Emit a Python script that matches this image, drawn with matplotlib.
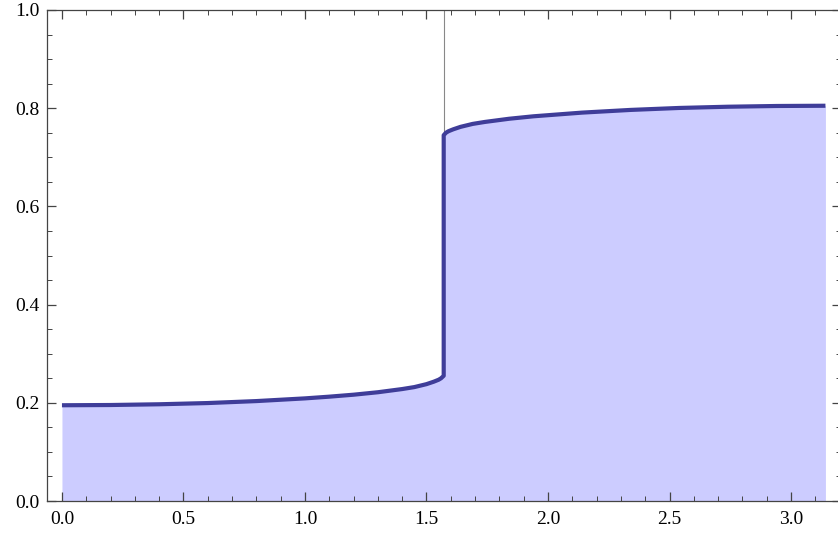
import numpy as np
import matplotlib.pyplot as plt
from matplotlib.ticker import MultipleLocator

# lower branch (left of pi/2)
x_low = [0.0, 0.2, 0.4, 0.6, 0.8, 1.0, 1.1, 1.2, 1.3, 1.4, 1.45, 1.5, 1.53, 1.55, 1.56, 1.5708]
y_low = [0.195, 0.1955, 0.197, 0.1995, 0.2035, 0.209, 0.2125, 0.2165, 0.2215, 0.228,
         0.232, 0.238, 0.243, 0.247, 0.25, 0.255]

# upper branch (right of pi/2)
x_high = [1.5708, 1.58, 1.59, 1.61, 1.64, 1.69, 1.74, 1.84, 1.94, 2.14, 2.34, 2.54, 2.74, 2.94, 3.1416]
y_high = [0.745, 0.75, 0.753, 0.757, 0.762, 0.768, 0.772, 0.7785, 0.7835, 0.791,
          0.7965, 0.8005, 0.803, 0.8045, 0.805]

x_jump = 1.5708

plt.rcParams['font.family'] = ['Liberation Serif', 'DejaVu Serif']

fig = plt.figure(figsize=(8.38, 5.37), dpi=100)
ax = fig.add_axes([46.7 / 838, 36 / 537, 794 / 838, 491 / 537])

xs = x_low + x_high
ys = y_low + y_high

ax.fill_between(xs, 0, ys, color='#ccccff', linewidth=0)
# thin mesh line at the discontinuity
ax.plot([x_jump, x_jump], [y_high[0], 1.0], color='#888888', linewidth=0.8)
ax.plot(xs, ys, color='#3f3d99', linewidth=3.0, solid_capstyle='butt', solid_joinstyle='round')

ax.set_xlim(-0.0628, 3.2044)
ax.set_ylim(0, 1.0)

ax.xaxis.set_major_locator(MultipleLocator(0.5))
ax.xaxis.set_minor_locator(MultipleLocator(0.1))
ax.yaxis.set_major_locator(MultipleLocator(0.2))
ax.yaxis.set_minor_locator(MultipleLocator(0.05))
ax.xaxis.set_major_formatter(lambda v, p: f'{v:.1f}')
ax.yaxis.set_major_formatter(lambda v, p: f'{v:.1f}')

ax.tick_params(which='both', direction='in', top=True, right=True, color='#444444')
ax.tick_params(which='major', length=6.5, width=0.9, labelsize=14)
ax.tick_params(which='minor', length=3.5, width=0.7)
ax.tick_params(axis='x', which='major', pad=7)
ax.tick_params(axis='y', which='major', pad=5)

for s in ax.spines.values():
    s.set_color('#444444')
    s.set_linewidth(0.9)

fig.savefig('out.png', dpi=100)
